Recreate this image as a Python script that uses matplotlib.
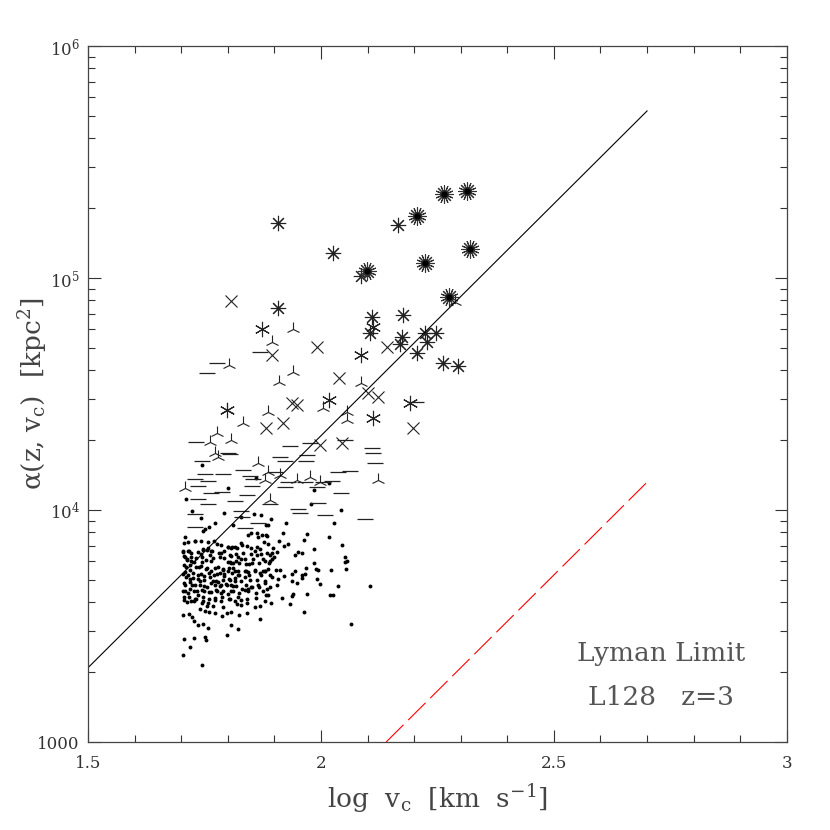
import numpy as np
import matplotlib
matplotlib.use("Agg")
import matplotlib.pyplot as plt

plt.rcParams['font.family'] = ['DejaVu Serif']
plt.rcParams['mathtext.fontset'] = 'dejavuserif'

# log v_c and log10 alpha, one group per marker type
dots_x = [2.018, 1.986, 1.979, 2.043, 1.893, 1.924, 2.029, 1.886, 1.971, 1.918, 1.883, 2.017,
          1.910, 1.963, 1.929, 1.921, 2.046, 1.898, 1.986, 1.906, 1.951, 1.960, 1.944, 1.896,
          1.890, 1.900, 1.894, 2.052, 1.890, 2.056, 2.052, 1.986, 1.967, 1.990, 1.994, 2.021,
          2.054, 1.903, 1.912, 1.944, 1.938, 1.880, 1.959, 1.966, 1.921, 1.890, 1.894, 1.959,
          1.907, 1.991, 1.937, 1.949, 1.999, 1.906, 1.891, 1.884, 2.037, 2.105, 1.886, 1.941,
          1.938, 1.971, 2.020, 2.026, 1.916, 1.892, 1.933, 1.963, 2.064,
          1.723, 1.792, 1.743, 1.829, 1.856, 1.871, 1.812, 1.883, 1.752, 1.759, 1.746, 1.850,
          1.843, 1.862, 1.873, 1.885, 1.865, 1.708, 1.730, 1.777, 1.706, 1.829, 1.800, 1.809,
          1.816, 1.842, 1.869, 1.746, 1.756, 1.766, 1.705, 1.717, 1.786, 1.742, 1.708, 1.722,
          1.713, 1.762, 1.793, 1.806, 1.822, 1.836, 1.855, 1.863, 1.875, 1.727, 1.745, 1.763,
          1.805, 1.812, 1.825, 1.846, 1.888, 1.710, 1.719, 1.738, 1.755, 1.773, 1.789, 1.802,
          1.816, 1.839, 1.859, 1.869, 1.879, 1.708, 1.726, 1.743, 1.760, 1.776, 1.793, 1.809,
          1.823, 1.845, 1.710, 1.720, 1.736, 1.750, 1.768, 1.779, 1.790, 1.803, 1.816, 1.829,
          1.862, 1.879, 1.708, 1.723, 1.740, 1.755, 1.772, 1.783, 1.798, 1.812, 1.830, 1.843,
          1.853, 1.868, 1.708, 1.720, 1.733, 1.745, 1.759, 1.776, 1.790, 1.808, 1.706, 1.717,
          1.730, 1.747, 1.759, 1.773, 1.788, 1.803, 1.822, 1.842, 1.883, 1.713, 1.727, 1.745,
          1.756, 1.769, 1.790, 1.819, 1.829, 1.858, 1.869, 1.740, 1.752, 1.759, 1.773, 1.788,
          1.798, 1.806, 1.825, 1.841, 1.869, 1.705, 1.716, 1.723, 1.727, 1.736, 1.746, 1.758,
          1.808, 1.822, 1.799, 1.752, 1.753, 1.706, 1.727, 1.720, 1.705, 1.745,
          1.744, 1.860, 1.801, 1.710, 1.773]
dots_la = [4.115, 4.086, 4.026, 4.000, 3.962, 3.945, 3.945, 3.934, 3.896, 3.900, 3.891, 3.885,
           3.868, 3.871, 3.853, 3.845, 3.848, 3.837, 3.833, 3.820, 3.818, 3.813, 3.807, 3.816,
           3.805, 3.799, 3.790, 3.799, 3.780, 3.781, 3.776, 3.770, 3.750, 3.744, 3.741, 3.741,
           3.744, 3.741, 3.741, 3.736, 3.724, 3.736, 3.721, 3.724, 3.717, 3.720, 3.710, 3.707,
           3.704, 3.701, 3.693, 3.684, 3.681, 3.678, 3.669, 3.661, 3.674, 3.672, 3.635, 3.638,
           3.629, 3.638, 3.635, 3.635, 3.621, 3.600, 3.595, 3.560, 3.509,
           3.997, 3.988, 3.965, 3.968, 3.983, 3.977, 3.937, 3.934, 3.919, 3.925, 3.908, 3.902,
           3.891, 3.900, 3.893, 3.888, 3.882, 3.885, 3.865, 3.853, 3.859, 3.859, 3.839, 3.839,
           3.839, 3.845, 3.833, 3.833, 3.828, 3.825, 3.819, 3.825, 3.816, 3.810, 3.799, 3.799,
           3.784, 3.805, 3.793, 3.802, 3.799, 3.790, 3.787, 3.805, 3.787, 3.776, 3.776, 3.779,
           3.776, 3.770, 3.773, 3.767, 3.770, 3.756, 3.762, 3.756, 3.750, 3.750, 3.747, 3.750,
           3.738, 3.738, 3.736, 3.730, 3.736, 3.733, 3.730, 3.724, 3.730, 3.724, 3.724, 3.727,
           3.718, 3.721, 3.710, 3.704, 3.701, 3.698, 3.695, 3.690, 3.698, 3.701, 3.693, 3.693,
           3.698, 3.693, 3.678, 3.675, 3.675, 3.669, 3.675, 3.672, 3.678, 3.672, 3.661, 3.658,
           3.667, 3.667, 3.652, 3.658, 3.650, 3.655, 3.647, 3.652, 3.650, 3.652, 3.626, 3.624,
           3.618, 3.624, 3.618, 3.621, 3.624, 3.615, 3.626, 3.615, 3.635, 3.603, 3.606, 3.598,
           3.586, 3.586, 3.583, 3.595, 3.592, 3.581, 3.586, 3.575, 3.566, 3.560, 3.555, 3.543,
           3.557, 3.560, 3.546, 3.555, 3.531, 3.549, 3.552, 3.540, 3.523, 3.503, 3.509, 3.491,
           3.506, 3.486, 3.462, 3.454, 3.440, 3.445, 3.448, 3.408, 3.374, 3.331,
           4.193, 4.137, 4.093, 4.049, 3.945]

# extra dots from the crowded core of the cloud
core_x = [1.715, 1.729, 1.743, 1.757, 1.770, 1.786, 1.800, 1.808, 1.820, 1.830, 1.849, 1.863,
          1.878, 1.886, 1.704, 1.715, 1.722, 1.736, 1.747, 1.757, 1.765, 1.782, 1.793, 1.804,
          1.818, 1.833, 1.849, 1.859, 1.872, 1.885, 1.706, 1.713, 1.722, 1.732, 1.745, 1.754,
          1.768, 1.783, 1.800, 1.808, 1.818, 1.829, 1.840, 1.852, 1.868, 1.880, 1.707, 1.718,
          1.732, 1.743, 1.754, 1.765, 1.778, 1.790, 1.800, 1.811, 1.822, 1.836, 1.843, 1.858,
          1.875, 1.886, 1.704, 1.715, 1.725, 1.736, 1.749, 1.761, 1.770, 1.783, 1.793, 1.804,
          1.815, 1.825, 1.836, 1.847, 1.872, 1.707, 1.720, 1.729, 1.740, 1.750, 1.765, 1.775,
          1.786, 1.797, 1.808, 1.818, 1.840, 1.850, 1.865, 1.880, 1.704, 1.715, 1.727, 1.737,
          1.750, 1.763, 1.775, 1.786, 1.800, 1.811, 1.825, 1.836, 1.843, 1.861, 1.875, 1.707,
          1.722, 1.732, 1.747, 1.757, 1.772, 1.786, 1.804, 1.815, 1.829, 1.842, 1.861, 1.880]
core_la = [3.862, 3.868, 3.865, 3.862, 3.868, 3.850, 3.839, 3.836, 3.836, 3.848, 3.836, 3.839,
           3.862, 3.853, 3.825, 3.822, 3.815, 3.819, 3.829, 3.836, 3.822, 3.815, 3.822, 3.807,
           3.810, 3.815, 3.810, 3.822, 3.810, 3.815, 3.800, 3.790, 3.779, 3.793, 3.796, 3.786,
           3.793, 3.796, 3.776, 3.771, 3.779, 3.790, 3.767, 3.771, 3.771, 3.779, 3.761, 3.743,
           3.753, 3.757, 3.747, 3.738, 3.753, 3.743, 3.736, 3.750, 3.736, 3.736, 3.733, 3.743,
           3.736, 3.747, 3.724, 3.718, 3.707, 3.721, 3.714, 3.710, 3.721, 3.728, 3.714, 3.700,
           3.707, 3.718, 3.710, 3.700, 3.718, 3.685, 3.690, 3.678, 3.692, 3.671, 3.685, 3.695,
           3.678, 3.681, 3.678, 3.671, 3.678, 3.667, 3.678, 3.685, 3.652, 3.642, 3.649, 3.635,
           3.652, 3.646, 3.656, 3.642, 3.638, 3.652, 3.642, 3.656, 3.649, 3.642, 3.652, 3.613,
           3.606, 3.618, 3.609, 3.599, 3.613, 3.606, 3.618, 3.606, 3.613, 3.599, 3.621, 3.606]

dash_x = [1.731, 1.933, 1.976, 2.052, 1.800, 1.805, 1.912, 1.971, 2.110, 2.112, 2.117, 1.745,
          1.923, 1.969, 1.833, 1.751, 1.790, 1.848, 1.901, 2.037, 2.062, 1.730, 1.758, 1.855,
          1.930, 1.966, 2.005, 2.023, 1.737, 1.851, 1.787, 1.765, 1.841, 1.923, 1.991, 2.044,
          1.737, 1.815, 1.891, 1.994, 1.758, 1.951, 1.955, 2.009, 1.828, 1.730, 2.094, 1.830,
          1.865, 1.730, 1.837, 1.869, 1.776, 1.755, 2.205]
dash_la = [4.292, 4.276, 4.287, 4.302, 4.247, 4.240, 4.227, 4.236, 4.268, 4.244, 4.201, 4.211,
           4.210, 4.211, 4.172, 4.155, 4.155, 4.146, 4.165, 4.162, 4.167, 4.132, 4.126, 4.134,
           4.122, 4.122, 4.122, 4.124, 4.103, 4.103, 4.076, 4.072, 4.065, 4.098, 4.100, 4.072,
           4.046, 4.039, 4.026, 4.031, 4.026, 4.003, 3.986, 3.978, 3.997, 3.983, 3.962, 3.971,
           3.945, 3.928, 3.924, 4.682, 4.632, 4.592, 4.465]

tri_x = [1.798, 1.887, 2.005, 1.833, 1.776, 1.762, 1.808, 2.057, 1.773, 1.780, 1.865, 1.887,
         1.912, 1.880, 1.976, 1.948, 1.998, 1.708, 1.891, 2.123, 2.055, 1.940, 1.894, 1.803,
         1.940, 1.911, 2.087, 2.287]
tri_la = [4.431, 4.424, 4.438, 4.374, 4.330, 4.294, 4.302, 4.388, 4.247, 4.230, 4.201, 4.165,
          4.151, 4.129, 4.143, 4.129, 4.122, 4.093, 4.043, 4.129, 4.424, 4.779, 4.725, 4.625,
          4.596, 4.553, 4.549, 4.898]

cross_x = [1.808, 1.991, 1.894, 2.141, 2.039, 1.937, 1.948, 2.101, 2.123, 1.882, 1.918, 2.198,
           2.046, 1.998]
cross_la = [4.902, 4.701, 4.668, 4.704, 4.568, 4.462, 4.452, 4.503, 4.488, 4.353, 4.376, 4.352,
            4.287, 4.280]

star6_x = [1.873, 2.087, 2.018, 2.112, 1.798, 2.191, 2.112]
star6_la = [4.780, 4.668, 4.474, 4.395, 4.431, 4.460, 4.790]

star8_x = [2.165, 1.908, 2.025, 2.087, 2.177, 2.109, 2.105, 2.173, 2.170, 2.223, 2.247, 2.262,
           2.295, 1.908, 2.227, 2.207]
star8_la = [5.228, 5.238, 5.106, 5.008, 4.840, 4.830, 4.761, 4.747, 4.715, 4.764, 4.761, 4.632,
            4.621, 4.869, 4.725, 4.676]

burst_x = [2.207, 2.098, 2.223, 2.321, 2.275, 2.264, 2.314]
burst_la = [5.268, 5.030, 5.063, 5.124, 4.919, 5.362, 5.376]

# alpha ~ v_c^2 reference lines
fit_x = [1.5, 2.7]
fit_la = [3.32, 5.72]
lyman_x = [2.14, 2.7]
lyman_la = [3.0, 4.12]

fig = plt.figure(figsize=(8.3, 8.3), dpi=100)
ax = fig.add_axes([0.106, 0.106, 0.842, 0.8386])

def pw(v):
    return 10 ** np.asarray(v)

ax.plot(dots_x, pw(dots_la), 'o', ms=2.8, color='black', mec='none')
ax.plot(core_x, pw(core_la), 'o', ms=2.8, color='black', mec='none')
ax.plot(dash_x, pw(dash_la), '_', ms=12, mew=0.9, color='#222222')
ax.plot(tri_x, pw(tri_la), '2', ms=10, mew=0.8, color='#222222')
ax.plot(cross_x, pw(cross_la), 'x', ms=9, mew=0.8, color='#222222')
ax.plot(star6_x, pw(star6_la), marker=(6, 2, 0), ls='none', ms=11, mew=0.8, color='#222222')
ax.plot(star8_x, pw(star8_la), marker=(8, 2, 0), ls='none', ms=11, mew=0.8, color='#222222')
ax.plot(burst_x, pw(burst_la), marker=(16, 2, 0), ls='none', ms=13, mew=0.8, color='#333333')
ax.plot(burst_x, pw(burst_la), 'o', ms=3.5, color='black')

ax.plot(fit_x, pw(fit_la), '-', color='black', lw=0.8)
ax.plot(lyman_x, pw(lyman_la), color='red', lw=0.8, dashes=(22, 6))

ax.set_yscale('log')
ax.set_xlim(1.5, 3)
ax.set_ylim(1e3, 1e6)

ax.set_xticks([1.5, 2, 2.5, 3])
ax.set_xticklabels(['1.5', '2', '2.5', '3'])
ax.set_xticks(np.arange(1.5, 3.0, 0.1), minor=True)
ax.set_yticks([1e3, 1e4, 1e5, 1e6])
ax.set_yticklabels(['1000', r'$10^4$', r'$10^5$', r'$10^6$'])

for s in ax.spines.values():
    s.set_color('#444444')
    s.set_linewidth(0.9)
ax.tick_params(which='both', direction='in', top=True, right=True, colors='#333333',
               labelsize=12)
ax.tick_params(axis='x', pad=9)
ax.tick_params(axis='y', pad=6)
ax.tick_params(which='major', length=9, width=0.8)
ax.tick_params(which='minor', length=5, width=0.8)

ax.set_xlabel(r'log  v$_{\rm c}$  [km  s$^{-1}$]', fontsize=19, color='#444444', labelpad=8)
ax.set_ylabel(r'α(z, v$_{\rm c}$)  [kpc$^2$]', fontsize=19, color='#444444')
ax.yaxis.set_label_coords(-0.054, 0.5)

ax.text(2.73, pw(3.38), 'Lyman Limit', fontsize=19, color='#555555', ha='center', va='center')
ax.text(2.73, pw(3.19), 'L128   z=3', fontsize=19, color='#555555', ha='center', va='center')

fig.savefig('out.png', dpi=100)
